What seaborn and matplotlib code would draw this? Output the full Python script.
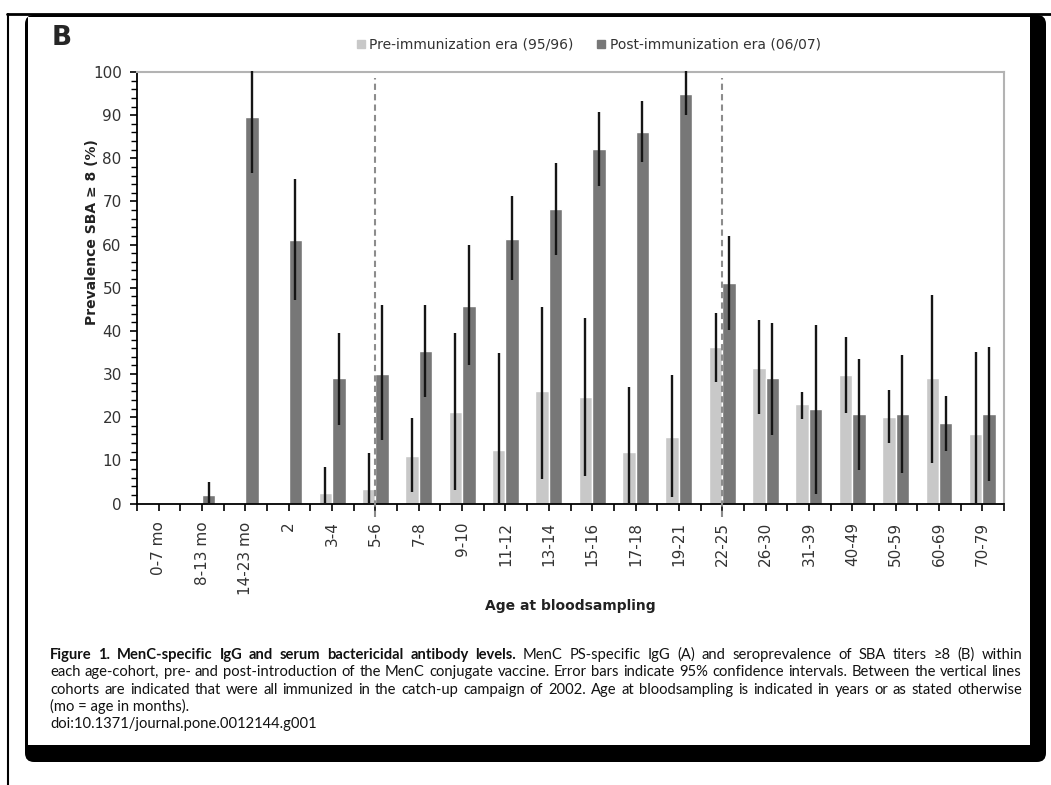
import numpy as np
import pandas as pd
import matplotlib
matplotlib.use('Agg')
import matplotlib.pyplot as plt
import seaborn as sns
from matplotlib.patches import FancyBboxPatch, Rectangle
from matplotlib.lines import Line2D
from matplotlib.transforms import IdentityTransform
from matplotlib.ticker import MultipleLocator, FixedLocator

# Data
ages = ['0-7 mo', '8-13 mo', '14-23 mo', '2', '3-4', '5-6', '7-8', '9-10', '11-12', '13-14',
        '15-16', '17-18', '19-21', '22-25', '26-30', '31-39', '40-49', '50-59', '60-69', '70-79']
nan = np.nan
pre = [0, 0, 0, 0, 2.5, 3.3, 11.0, 21.1, 12.4, 26.0, 24.7, 12.0, 15.4, 36.3, 31.5, 23.0, 29.7, 20.1, 29.0, 16.2]
pre_lo = [nan, nan, nan, nan, 0, 0, 2.7, 3.1, 0, 5.6, 6.3, 0, 1.5, 28.2, 20.7, 19.5, 21.0, 14.1, 9.3, 0]
pre_hi = [nan, nan, nan, nan, 8.5, 11.6, 19.9, 39.4, 34.9, 45.6, 43.0, 26.9, 29.7, 44.2, 42.6, 25.9, 38.5, 26.3, 48.3, 35.1]
post = [0, 2.0, 89.6, 61.0, 29.0, 30.1, 35.4, 45.7, 61.4, 68.3, 82.1, 86.1, 95.0, 51.1, 29.0, 21.8, 20.7, 20.7, 18.7, 20.7]
post_lo = [nan, 0, 76.6, 47.1, 18.1, 14.7, 24.6, 32.0, 51.7, 57.5, 73.5, 79.2, 90.0, 40.3, 15.8, 2.3, 7.7, 7.1, 12.1, 5.3]
post_hi = [nan, 5.0, 100.3, 75.3, 39.4, 45.9, 45.9, 59.8, 71.2, 79.0, 90.7, 93.3, 100.3, 61.9, 41.9, 41.3, 33.4, 34.4, 24.9, 36.3]
catchup_cohorts = ['5-6', '22-25']

pre_label = 'Pre-immunization era (95/96)'
post_label = 'Post-immunization era (06/07)'
pre_color = '#c8c8c8'
post_color = '#777777'

sns.set_style('white')
plt.rcParams['font.family'] = ['DejaVu Sans']

W, H = 1051, 785
fig = plt.figure(figsize=(W / 100, H / 100), dpi=100)
ident = IdentityTransform()

# page frame with drop shadow
fig.add_artist(FancyBboxPatch((25, H - 762), 1046 - 25, 762 - 15,
                              boxstyle='round,pad=0,rounding_size=9',
                              fc='black', ec='none', transform=ident, zorder=-10))
fig.add_artist(Rectangle((28, H - 745), 1030 - 28, 745 - 17, fc='white', ec='none',
                         transform=ident, zorder=-9))
fig.add_artist(Line2D([7, 1051], [H - 14, H - 14], color='black', lw=2, transform=ident))
fig.add_artist(Line2D([8, 8], [H - 14, 0], color='black', lw=1.5, transform=ident))

ax = fig.add_axes([137 / W, (H - 503.5) / H, (1004 - 137) / W, (503.5 - 72) / H])

df = pd.DataFrame({'age': ages * 2, 'prev': pre + post,
                   'era': [pre_label] * len(ages) + [post_label] * len(ages)})
sns.barplot(data=df, x='age', y='prev', hue='era', order=ages, hue_order=[pre_label, post_label],
            palette=[pre_color, post_color], width=0.62, errorbar=None, saturation=1,
            legend=False, ax=ax)

# 95% CI whiskers
for cont, lo, hi in zip(ax.containers, [pre_lo, post_lo], [pre_hi, post_hi]):
    for bar, l, h in zip(cont, lo, hi):
        if np.isnan(l):
            continue
        xc = bar.get_x() + bar.get_width() / 2
        ax.vlines(xc, l, h, color='#151515', lw=1.7, clip_on=False, zorder=3)

# catch-up campaign lines
for c in catchup_cohorts:
    xd = ages.index(c)
    ax.plot([xd, xd], [-3.2, 98.6], color='#8c8c8c', lw=1.5, ls=(0, (3, 2)),
            clip_on=False, zorder=4)

ax.set_xlim(-0.5, len(ages) - 0.5)
ax.set_ylim(0, 100)
ax.yaxis.set_major_locator(MultipleLocator(10))
ax.yaxis.set_minor_locator(MultipleLocator(2))
ax.xaxis.set_minor_locator(FixedLocator(np.arange(-0.5, len(ages), 1)))
ax.set_xticks(range(len(ages)))
ax.set_xticklabels(ages, rotation=90, fontsize=11, color='#333333')
ax.tick_params(axis='y', labelsize=11, labelcolor='#333333')
ax.tick_params(axis='x', which='both', bottom=True, direction='out', length=5, width=1.2,
               color='black', pad=8)
ax.tick_params(axis='y', which='major', left=True, length=5, width=1.2, color='black', pad=6)
ax.tick_params(axis='y', which='minor', left=True, length=4, width=1.0, color='black')
ax.set_xlabel('')
ax.set_ylabel('')
for s in ['left', 'bottom']:
    ax.spines[s].set_color('black')
    ax.spines[s].set_linewidth(1.3)
for s in ['top', 'right']:
    ax.spines[s].set_color('#b3b3b3')
    ax.spines[s].set_linewidth(1.5)

# legend above the plot
handles = [Line2D([], [], marker='s', ls='', color=pre_color, markersize=6),
           Line2D([], [], marker='s', ls='', color=post_color, markersize=6)]
fig.legend(handles, [pre_label, post_label], loc='center', bbox_to_anchor=(588 / W, 1 - 45 / H),
           ncol=2, frameon=False, fontsize=10, handletextpad=0.2, columnspacing=1.6,
           handlelength=0.8, labelcolor='#333333')

fig.text(52, H - 45, 'B', transform=ident, fontsize=19, weight='bold', va='baseline')
fig.text(92, H - 232, 'Prevalence SBA \u2265 8 (%)', transform=ident, rotation=90,
         ha='center', va='center', fontsize=10, weight='bold', color='#222222')
fig.text(570, H - 606, 'Age at bloodsampling', transform=ident, ha='center', va='center',
         fontsize=10, weight='bold', color='#222222')

# caption
cap_bold = 'Figure 1. MenC-specific IgG and serum bactericidal antibody levels.'
cap_lines = [
    'MenC PS-specific IgG (A) and seroprevalence of SBA titers \u22658 (B) within',
    'each age-cohort, pre- and post-introduction of the MenC conjugate vaccine. Error bars indicate 95% confidence intervals. Between the vertical lines',
    'cohorts are indicated that were all immunized in the catch-up campaign of 2002. Age at bloodsampling is indicated in years or as stated otherwise',
    '(mo = age in months).',
    'doi:10.1371/journal.pone.0012144.g001',
]
cap_fam = ['Lato', 'DejaVu Sans']
cap_left, cap_right = 50, 1022
renderer = fig.canvas.get_renderer()
probe = fig.text(50, 0, cap_lines[1], transform=ident, fontsize=10, family=cap_fam)
cap_size = 10 * 960 / probe.get_window_extent(renderer).width
probe.remove()


def justified(words, baseline):
    # words: list of (text, weight); spread across caption width
    arts = [fig.text(0, H - baseline, w, transform=ident, fontsize=cap_size, weight=wt,
                     family=cap_fam, va='baseline', color='#111111') for w, wt in words]
    widths = [a.get_window_extent(renderer).width for a in arts]
    gap = (cap_right - cap_left - sum(widths)) / (len(arts) - 1)
    x = cap_left
    for a, w in zip(arts, widths):
        a.set_x(x)
        x += w + gap


baselines = [659, 676, 694, 711, 728]
justified([(w, 'bold') for w in cap_bold.split()] + [(w, 'normal') for w in cap_lines[0].split()],
          baselines[0])
justified([(w, 'normal') for w in cap_lines[1].split()], baselines[1])
justified([(w, 'normal') for w in cap_lines[2].split()], baselines[2])
for txt, b in zip(cap_lines[3:], baselines[3:]):
    fig.text(cap_left, H - b, txt, transform=ident, fontsize=cap_size, family=cap_fam,
             va='baseline', color='#111111')

fig.savefig('out.png', dpi=100, facecolor='white')
